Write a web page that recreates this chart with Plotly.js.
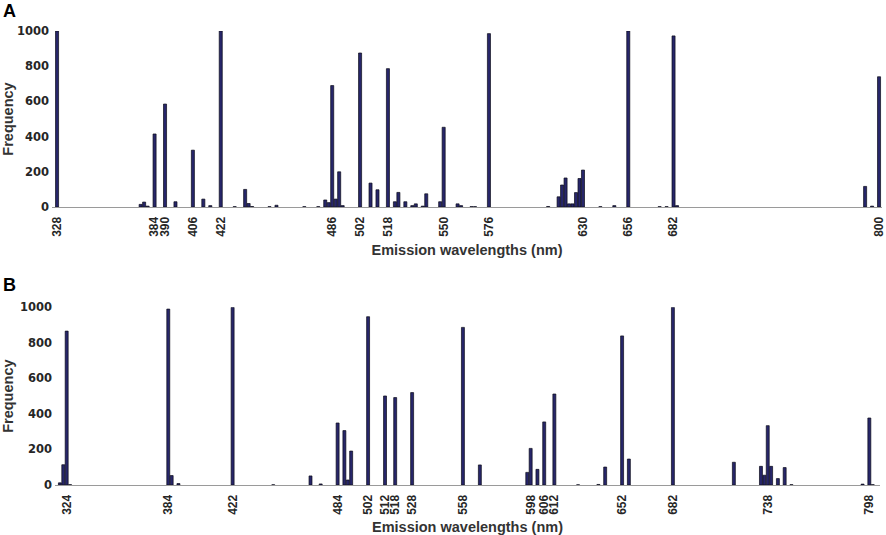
<!DOCTYPE html>
<html>
<head>
<meta charset="utf-8">
<script src="https://cdn.plot.ly/plotly-3.0.1.min.js"></script>
<style>
  html, body { margin: 0; padding: 0; background: #fff; }
  #chart { width: 886px; height: 535px; }
</style>
</head>
<body>
<div id="chart"></div>
<script>
// panel A: emission wavelength (nm) and frequency
var wlA = [328, 376, 378, 380, 384, 390, 396, 406, 412, 416, 422,
  430, 436, 438, 440, 450, 454,
  470, 478, 482, 484, 486, 488, 490, 492,
  502, 508, 512, 518, 522, 524, 528, 532, 534, 538, 540, 548, 550, 558, 560, 566, 568, 576,
  610, 616, 618, 620, 622, 624, 626, 628, 630,
  640, 648, 656, 674, 678, 682, 684, 792, 796, 800];
var freqA = [1000, 15, 28, 5, 415, 585, 30, 323, 45, 8, 1000,
  2, 100, 20, 3, 2, 10,
  2, 2, 40, 25, 690, 45, 200, 8,
  875, 136, 98, 786, 30, 83, 30, 8, 18, 5, 75, 30, 453, 18, 8, 2, 2, 985,
  3, 58, 125, 165, 18, 18, 82, 162, 210,
  2, 8, 1000, 2, 2, 972, 8, 117, 5, 740];
var ticksA = [328, 384, 390, 406, 422, 486, 502, 518, 550, 576, 630, 656, 682, 800];

// panel B
var wlB = [320, 322, 324, 326, 384, 386, 390, 422, 446,
  468, 474, 484, 488, 490, 492, 502, 512, 518, 528, 558, 568,
  596, 598, 602, 606, 612, 626, 638, 642, 652, 656, 682,
  718, 734, 736, 738, 740, 744, 748, 752, 794, 798, 800];
var freqB = [12, 114, 866, 2, 990, 53, 8, 1000, 1,
  51, 6, 349, 306, 28, 191, 947, 501, 492, 520, 887, 113,
  71, 206, 88, 355, 512, 1, 3, 101, 839, 146, 1000,
  128, 105, 55, 334, 105, 36, 98, 2, 5, 377, 2];
var ticksB = [324, 384, 422, 484, 502, 512, 518, 528, 558, 598, 606, 612, 652, 682, 738, 798];

var barColor = '#27266a';

function barTrace(x, y, xa, ya) {
  return {
    type: 'bar', x: x, y: y, xaxis: xa, yaxis: ya, width: 1.75,
    marker: { color: barColor, line: { color: '#0b0b18', width: 0.7 } },
    showlegend: false, hoverinfo: 'skip'
  };
}

var tickFontX = { family: 'Liberation Sans, Arial, sans-serif', size: 12, color: '#262626', weight: 700 };
var tickFontY = { family: 'DejaVu Sans, sans-serif', size: 11.5, color: '#262626', weight: 700 };
var titleFont = { family: 'Liberation Sans, Arial, sans-serif', size: 14.5, color: '#333', weight: 700 };

function xAxis(ticks, range, domain, anchor) {
  return {
    domain: domain, anchor: anchor, range: range,
    tickmode: 'array', tickvals: ticks, ticktext: ticks.map(String),
    tickangle: -90, ticks: '', tickfont: tickFontX, ticklabelstandoff: 4,
    showline: true, linecolor: '#9a9a9a', linewidth: 1,
    showgrid: false, zeroline: false,
    title: { text: 'Emission wavelengths (nm)', font: titleFont, standoff: 9 }
  };
}
function yAxis(domain, anchor) {
  return {
    domain: domain, anchor: anchor, range: [0, 1000],
    tickmode: 'array', tickvals: [0, 200, 400, 600, 800, 1000],
    ticks: '', tickfont: tickFontY, ticklabelstandoff: 2,
    showline: false, showgrid: false, zeroline: false,
    title: { text: 'Frequency', font: titleFont, standoff: 4 }
  };
}

var layout = {
  width: 886, height: 535,
  margin: { l: 52, r: 4, t: 31, b: 50 },
  paper_bgcolor: '#fff', plot_bgcolor: '#fff',
  bargap: 0,
  xaxis: xAxis(ticksA, [325.1, 801.7], [0, 1], 'y'),
  yaxis: yAxis([0.6123, 1], 'x'),
  xaxis2: xAxis(ticksB, [317.1, 804.3], [0.0036, 0.9976], 'y2'),
  yaxis2: yAxis([0, 0.3914], 'x2'),
  annotations: [
    { text: 'A', xref: 'paper', yref: 'paper', x: -0.061, y: 1.07, xanchor: 'left', yanchor: 'top',
      showarrow: false, font: { family: 'Liberation Sans, Arial, sans-serif', size: 18, color: '#000', weight: 700 } },
    { text: 'B', xref: 'paper', yref: 'paper', x: -0.061, y: 0.468, xanchor: 'left', yanchor: 'top',
      showarrow: false, font: { family: 'Liberation Sans, Arial, sans-serif', size: 18, color: '#000', weight: 700 } }
  ]
};

Plotly.newPlot('chart', [barTrace(wlA, freqA, 'x', 'y'), barTrace(wlB, freqB, 'x2', 'y2')], layout, { staticPlot: true });
</script>
</body>
</html>
